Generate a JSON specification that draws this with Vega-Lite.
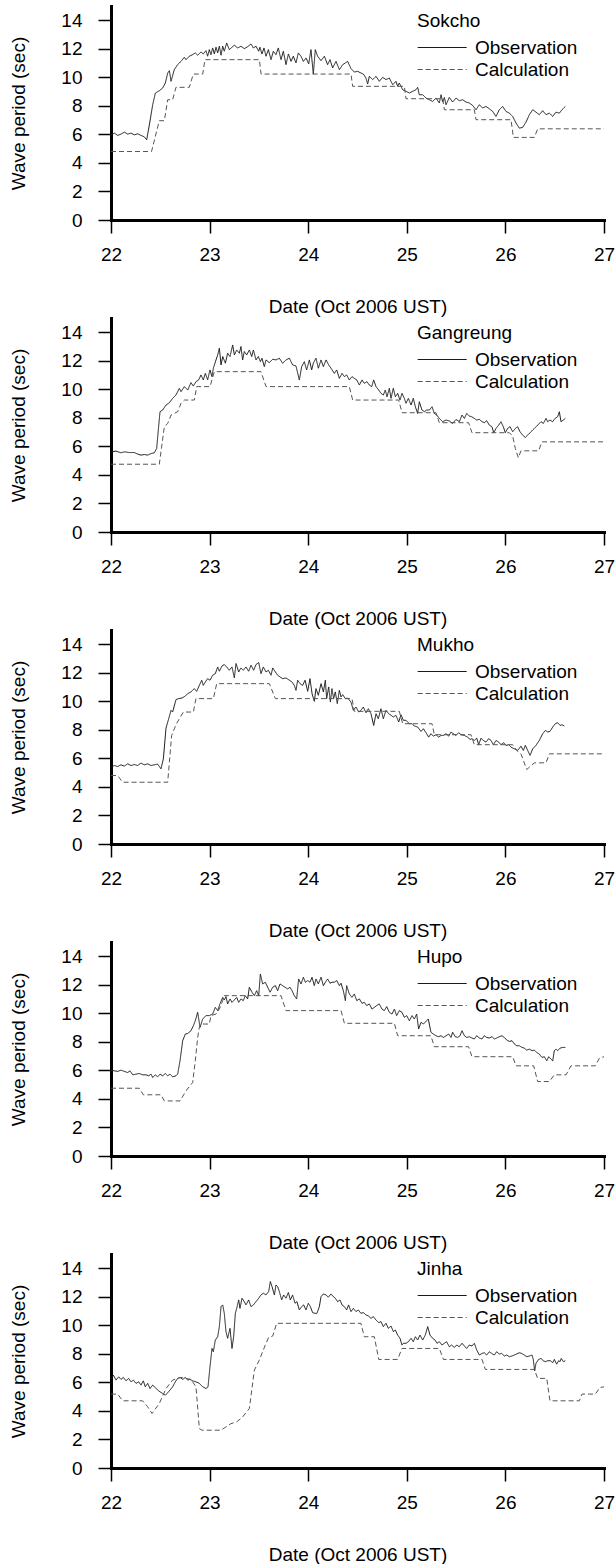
{
"$schema":"https://vega.github.io/schema/vega-lite/v6.json",
"padding":{"left":9,"top":6,"right":0,"bottom":0},
"spacing":2,
"config":{
"view":{"stroke":null},
"font":"Liberation Sans",
"axis":{"grid":false,"domainColor":"black","domainWidth":3,"domainCap":"square","tickColor":"black","tickWidth":1.5,"tickSize":13,"labelFont":"Liberation Sans","labelFontSize":19,"labelColor":"black","titleFont":"Liberation Sans","titleFontSize":19,"titleColor":"black","titleFontWeight":"normal","labelOverlap":false,"labelFlush":false},
"axisX":{"labelPadding":12,"titlePadding":33},
"axisY":{"labelPadding":16,"titlePadding":32},
"legend":{"titleFont":"Liberation Sans","titleFontSize":19,"titleFontWeight":"normal","titleColor":"black","labelFont":"Liberation Sans","labelFontSize":19,"labelColor":"black","symbolType":"M-1.8,0H8.2","symbolSize":96,"symbolStrokeWidth":1.2,"titlePadding":7,"labelOffset":39,"padding":0}
},
"datasets":{
"sokcho":[
{"series":"Observation","day":22.000,"period":5.97},{"series":"Observation","day":22.034,"period":6.09},{"series":"Observation","day":22.068,"period":5.93},{"series":"Observation","day":22.101,"period":6.02},{"series":"Observation","day":22.135,"period":6.16},{"series":"Observation","day":22.169,"period":6.02},{"series":"Observation","day":22.203,"period":6.09},{"series":"Observation","day":22.237,"period":5.97},{"series":"Observation","day":22.270,"period":6.04},{"series":"Observation","day":22.304,"period":5.93},{"series":"Observation","day":22.338,"period":5.83},{"series":"Observation","day":22.362,"period":5.62},{"series":"Observation","day":22.389,"period":6.67},{"series":"Observation","day":22.423,"period":8.08},{"series":"Observation","day":22.450,"period":8.90},{"series":"Observation","day":22.490,"period":9.06},{"series":"Observation","day":22.524,"period":9.25},{"series":"Observation","day":22.551,"period":9.60},{"series":"Observation","day":22.575,"period":10.30},{"series":"Observation","day":22.592,"period":10.47},{"series":"Observation","day":22.609,"period":9.72},{"series":"Observation","day":22.642,"period":10.54},{"series":"Observation","day":22.676,"period":10.89},{"series":"Observation","day":22.710,"period":11.12},{"series":"Observation","day":22.744,"period":11.41},{"series":"Observation","day":22.761,"period":11.24},{"series":"Observation","day":22.794,"period":11.48},{"series":"Observation","day":22.828,"period":11.59},{"series":"Observation","day":22.855,"period":11.71},{"series":"Observation","day":22.879,"period":11.55},{"series":"Observation","day":22.913,"period":11.78},{"series":"Observation","day":22.936,"period":11.64},{"series":"Observation","day":22.963,"period":11.87},{"series":"Observation","day":22.980,"period":11.48},{"series":"Observation","day":22.997,"period":11.94},{"series":"Observation","day":23.014,"period":11.59},{"series":"Observation","day":23.031,"period":12.06},{"series":"Observation","day":23.048,"period":11.64},{"series":"Observation","day":23.065,"period":12.11},{"series":"Observation","day":23.082,"period":11.71},{"series":"Observation","day":23.099,"period":12.18},{"series":"Observation","day":23.116,"period":11.55},{"series":"Observation","day":23.133,"period":12.18},{"series":"Observation","day":23.149,"period":11.83},{"series":"Observation","day":23.173,"period":12.41},{"series":"Observation","day":23.200,"period":11.94},{"series":"Observation","day":23.227,"period":12.11},{"series":"Observation","day":23.251,"period":12.25},{"series":"Observation","day":23.285,"period":12.06},{"series":"Observation","day":23.318,"period":12.18},{"series":"Observation","day":23.352,"period":12.01},{"series":"Observation","day":23.386,"period":12.15},{"series":"Observation","day":23.420,"period":12.34},{"series":"Observation","day":23.444,"period":12.06},{"series":"Observation","day":23.471,"period":12.18},{"series":"Observation","day":23.498,"period":11.83},{"series":"Observation","day":23.511,"period":12.11},{"series":"Observation","day":23.531,"period":11.64},{"series":"Observation","day":23.552,"period":12.06},{"series":"Observation","day":23.572,"period":11.48},{"series":"Observation","day":23.596,"period":11.94},{"series":"Observation","day":23.623,"period":11.24},{"series":"Observation","day":23.646,"period":11.83},{"series":"Observation","day":23.673,"period":11.59},{"series":"Observation","day":23.697,"period":12.06},{"series":"Observation","day":23.724,"period":11.24},{"series":"Observation","day":23.748,"period":11.83},{"series":"Observation","day":23.775,"period":10.89},{"series":"Observation","day":23.799,"period":11.64},{"series":"Observation","day":23.826,"period":11.12},{"series":"Observation","day":23.849,"period":11.48},{"series":"Observation","day":23.876,"period":11.01},{"series":"Observation","day":23.900,"period":11.71},{"series":"Observation","day":23.927,"period":11.48},{"series":"Observation","day":23.951,"period":11.12},{"series":"Observation","day":23.978,"period":11.36},{"series":"Observation","day":24.005,"period":10.94},{"series":"Observation","day":24.028,"period":11.94},{"series":"Observation","day":24.052,"period":10.23},{"series":"Observation","day":24.072,"period":11.94},{"series":"Observation","day":24.096,"period":11.48},{"series":"Observation","day":24.130,"period":11.17},{"series":"Observation","day":24.164,"period":11.48},{"series":"Observation","day":24.197,"period":10.89},{"series":"Observation","day":24.221,"period":11.24},{"series":"Observation","day":24.248,"period":10.66},{"series":"Observation","day":24.282,"period":11.12},{"series":"Observation","day":24.316,"period":10.54},{"series":"Observation","day":24.350,"period":10.89},{"series":"Observation","day":24.377,"period":11.01},{"series":"Observation","day":24.400,"period":11.12},{"series":"Observation","day":24.434,"period":10.61},{"series":"Observation","day":24.468,"period":10.37},{"series":"Observation","day":24.502,"period":10.42},{"series":"Observation","day":24.535,"period":10.30},{"series":"Observation","day":24.559,"period":10.23},{"series":"Observation","day":24.586,"period":9.95},{"series":"Observation","day":24.603,"period":9.53},{"series":"Observation","day":24.620,"period":10.07},{"series":"Observation","day":24.654,"period":9.84},{"series":"Observation","day":24.688,"period":10.07},{"series":"Observation","day":24.721,"period":9.72},{"series":"Observation","day":24.755,"period":10.00},{"series":"Observation","day":24.789,"period":9.84},{"series":"Observation","day":24.823,"period":9.95},{"series":"Observation","day":24.857,"period":9.48},{"series":"Observation","day":24.890,"period":9.72},{"series":"Observation","day":24.907,"period":9.37},{"series":"Observation","day":24.924,"period":9.60},{"series":"Observation","day":24.958,"period":9.13},{"series":"Observation","day":24.992,"period":9.02},{"series":"Observation","day":25.026,"period":8.90},{"series":"Observation","day":25.059,"period":9.02},{"series":"Observation","day":25.093,"period":9.13},{"series":"Observation","day":25.110,"period":9.30},{"series":"Observation","day":25.127,"period":8.78},{"series":"Observation","day":25.161,"period":8.78},{"series":"Observation","day":25.195,"period":8.55},{"series":"Observation","day":25.228,"period":8.43},{"series":"Observation","day":25.262,"period":8.31},{"series":"Observation","day":25.296,"period":8.55},{"series":"Observation","day":25.330,"period":8.20},{"series":"Observation","day":25.347,"period":8.78},{"series":"Observation","day":25.364,"period":8.27},{"series":"Observation","day":25.381,"period":8.59},{"series":"Observation","day":25.398,"period":8.08},{"series":"Observation","day":25.431,"period":8.59},{"series":"Observation","day":25.465,"period":8.27},{"series":"Observation","day":25.499,"period":8.55},{"series":"Observation","day":25.533,"period":8.36},{"series":"Observation","day":25.567,"period":8.43},{"series":"Observation","day":25.600,"period":8.27},{"series":"Observation","day":25.634,"period":8.20},{"series":"Observation","day":25.668,"period":8.03},{"series":"Observation","day":25.702,"period":7.73},{"series":"Observation","day":25.736,"period":8.08},{"series":"Observation","day":25.769,"period":7.85},{"series":"Observation","day":25.803,"period":7.96},{"series":"Observation","day":25.837,"period":7.80},{"series":"Observation","day":25.871,"period":7.61},{"series":"Observation","day":25.905,"period":7.26},{"series":"Observation","day":25.938,"period":7.73},{"series":"Observation","day":25.972,"period":7.96},{"series":"Observation","day":26.006,"period":7.61},{"series":"Observation","day":26.040,"period":7.49},{"series":"Observation","day":26.074,"period":7.26},{"series":"Observation","day":26.108,"period":6.79},{"series":"Observation","day":26.141,"period":6.44},{"series":"Observation","day":26.175,"period":6.49},{"series":"Observation","day":26.209,"period":6.86},{"series":"Observation","day":26.243,"period":7.38},{"series":"Observation","day":26.277,"period":7.73},{"series":"Observation","day":26.310,"period":7.56},{"series":"Observation","day":26.344,"period":7.38},{"series":"Observation","day":26.378,"period":7.66},{"series":"Observation","day":26.412,"period":7.38},{"series":"Observation","day":26.446,"period":7.49},{"series":"Observation","day":26.480,"period":7.26},{"series":"Observation","day":26.513,"period":7.56},{"series":"Observation","day":26.547,"period":7.49},{"series":"Observation","day":26.574,"period":7.73},{"series":"Observation","day":26.608,"period":7.96},
{"series":"Calculation","day":22.000,"period":4.80},{"series":"Calculation","day":22.411,"period":4.80},{"series":"Calculation","day":22.490,"period":6.96},{"series":"Calculation","day":22.541,"period":6.96},{"series":"Calculation","day":22.575,"period":8.43},{"series":"Calculation","day":22.625,"period":8.43},{"series":"Calculation","day":22.659,"period":9.30},{"series":"Calculation","day":22.794,"period":9.30},{"series":"Calculation","day":22.835,"period":10.23},{"series":"Calculation","day":22.930,"period":10.23},{"series":"Calculation","day":22.953,"period":11.24},{"series":"Calculation","day":23.505,"period":11.24},{"series":"Calculation","day":23.522,"period":10.23},{"series":"Calculation","day":24.434,"period":10.23},{"series":"Calculation","day":24.451,"period":9.37},{"series":"Calculation","day":24.975,"period":9.37},{"series":"Calculation","day":24.992,"period":8.50},{"series":"Calculation","day":25.364,"period":8.50},{"series":"Calculation","day":25.381,"period":7.73},{"series":"Calculation","day":25.685,"period":7.73},{"series":"Calculation","day":25.702,"period":7.03},{"series":"Calculation","day":26.057,"period":7.03},{"series":"Calculation","day":26.081,"period":5.79},{"series":"Calculation","day":26.294,"period":5.79},{"series":"Calculation","day":26.327,"period":6.39},{"series":"Calculation","day":27.000,"period":6.39}
],
"gangreung":[
{"series":"Observation","day":22.000,"period":5.62},{"series":"Observation","day":22.051,"period":5.67},{"series":"Observation","day":22.101,"period":5.55},{"series":"Observation","day":22.135,"period":5.62},{"series":"Observation","day":22.186,"period":5.57},{"series":"Observation","day":22.237,"period":5.57},{"series":"Observation","day":22.270,"period":5.46},{"series":"Observation","day":22.304,"period":5.39},{"series":"Observation","day":22.338,"period":5.43},{"series":"Observation","day":22.372,"period":5.39},{"series":"Observation","day":22.406,"period":5.50},{"series":"Observation","day":22.439,"period":5.55},{"series":"Observation","day":22.463,"period":5.85},{"series":"Observation","day":22.483,"period":7.38},{"series":"Observation","day":22.497,"period":8.43},{"series":"Observation","day":22.524,"period":8.55},{"series":"Observation","day":22.558,"period":8.90},{"series":"Observation","day":22.592,"period":9.06},{"series":"Observation","day":22.625,"period":9.37},{"series":"Observation","day":22.659,"period":9.60},{"series":"Observation","day":22.693,"period":10.07},{"series":"Observation","day":22.710,"period":9.84},{"series":"Observation","day":22.744,"period":10.19},{"series":"Observation","day":22.778,"period":9.95},{"series":"Observation","day":22.811,"period":10.47},{"series":"Observation","day":22.835,"period":10.23},{"series":"Observation","day":22.862,"period":10.54},{"series":"Observation","day":22.889,"period":10.66},{"series":"Observation","day":22.913,"period":11.01},{"series":"Observation","day":22.936,"period":10.66},{"series":"Observation","day":22.957,"period":11.12},{"series":"Observation","day":22.980,"period":10.66},{"series":"Observation","day":23.004,"period":11.36},{"series":"Observation","day":23.024,"period":10.89},{"series":"Observation","day":23.038,"period":11.48},{"series":"Observation","day":23.065,"period":12.06},{"series":"Observation","day":23.082,"period":12.41},{"series":"Observation","day":23.099,"period":12.88},{"series":"Observation","day":23.116,"period":11.71},{"series":"Observation","day":23.133,"period":12.30},{"series":"Observation","day":23.160,"period":11.83},{"series":"Observation","day":23.183,"period":12.53},{"series":"Observation","day":23.207,"period":12.30},{"series":"Observation","day":23.234,"period":13.11},{"series":"Observation","day":23.251,"period":12.41},{"series":"Observation","day":23.275,"period":12.76},{"series":"Observation","day":23.302,"period":12.53},{"series":"Observation","day":23.318,"period":13.00},{"series":"Observation","day":23.335,"period":12.06},{"series":"Observation","day":23.352,"period":12.65},{"series":"Observation","day":23.376,"period":12.41},{"series":"Observation","day":23.403,"period":12.76},{"series":"Observation","day":23.427,"period":12.30},{"series":"Observation","day":23.444,"period":12.76},{"series":"Observation","day":23.471,"period":12.06},{"series":"Observation","day":23.494,"period":12.30},{"series":"Observation","day":23.515,"period":11.94},{"series":"Observation","day":23.531,"period":12.18},{"series":"Observation","day":23.555,"period":11.59},{"series":"Observation","day":23.572,"period":12.06},{"series":"Observation","day":23.606,"period":11.87},{"series":"Observation","day":23.640,"period":12.11},{"series":"Observation","day":23.673,"period":12.06},{"series":"Observation","day":23.707,"period":12.18},{"series":"Observation","day":23.741,"period":11.83},{"series":"Observation","day":23.775,"period":12.06},{"series":"Observation","day":23.809,"period":12.18},{"series":"Observation","day":23.842,"period":11.71},{"series":"Observation","day":23.876,"period":11.64},{"series":"Observation","day":23.910,"period":10.66},{"series":"Observation","day":23.934,"period":11.59},{"series":"Observation","day":23.961,"period":11.94},{"series":"Observation","day":23.984,"period":11.36},{"series":"Observation","day":24.012,"period":12.06},{"series":"Observation","day":24.035,"period":11.36},{"series":"Observation","day":24.052,"period":11.83},{"series":"Observation","day":24.079,"period":12.18},{"series":"Observation","day":24.103,"period":11.48},{"series":"Observation","day":24.130,"period":12.06},{"series":"Observation","day":24.154,"period":11.59},{"series":"Observation","day":24.181,"period":12.06},{"series":"Observation","day":24.208,"period":11.71},{"series":"Observation","day":24.231,"period":11.48},{"series":"Observation","day":24.265,"period":11.12},{"series":"Observation","day":24.289,"period":11.36},{"series":"Observation","day":24.316,"period":10.77},{"series":"Observation","day":24.343,"period":11.12},{"series":"Observation","day":24.367,"period":10.89},{"series":"Observation","day":24.390,"period":11.01},{"series":"Observation","day":24.417,"period":10.66},{"series":"Observation","day":24.444,"period":10.89},{"series":"Observation","day":24.468,"period":10.77},{"series":"Observation","day":24.492,"period":10.66},{"series":"Observation","day":24.519,"period":10.30},{"series":"Observation","day":24.546,"period":10.66},{"series":"Observation","day":24.569,"period":10.42},{"series":"Observation","day":24.596,"period":10.54},{"series":"Observation","day":24.620,"period":10.30},{"series":"Observation","day":24.644,"period":10.19},{"series":"Observation","day":24.664,"period":10.66},{"series":"Observation","day":24.688,"period":10.19},{"series":"Observation","day":24.715,"period":9.95},{"series":"Observation","day":24.738,"period":9.72},{"series":"Observation","day":24.762,"period":9.60},{"series":"Observation","day":24.782,"period":9.95},{"series":"Observation","day":24.799,"period":9.48},{"series":"Observation","day":24.823,"period":10.07},{"series":"Observation","day":24.840,"period":9.37},{"series":"Observation","day":24.863,"period":10.07},{"series":"Observation","day":24.884,"period":9.48},{"series":"Observation","day":24.907,"period":9.72},{"series":"Observation","day":24.931,"period":9.25},{"series":"Observation","day":24.951,"period":9.72},{"series":"Observation","day":24.975,"period":9.37},{"series":"Observation","day":24.992,"period":9.02},{"series":"Observation","day":25.016,"period":9.37},{"series":"Observation","day":25.043,"period":8.90},{"series":"Observation","day":25.066,"period":9.37},{"series":"Observation","day":25.087,"period":8.78},{"series":"Observation","day":25.110,"period":8.31},{"series":"Observation","day":25.127,"period":9.13},{"series":"Observation","day":25.154,"period":8.55},{"series":"Observation","day":25.178,"period":8.43},{"series":"Observation","day":25.202,"period":8.55},{"series":"Observation","day":25.229,"period":8.55},{"series":"Observation","day":25.256,"period":8.78},{"series":"Observation","day":25.279,"period":8.31},{"series":"Observation","day":25.303,"period":8.20},{"series":"Observation","day":25.330,"period":7.96},{"series":"Observation","day":25.364,"period":7.73},{"series":"Observation","day":25.398,"period":7.85},{"series":"Observation","day":25.431,"period":7.78},{"series":"Observation","day":25.465,"period":7.61},{"series":"Observation","day":25.499,"period":7.89},{"series":"Observation","day":25.533,"period":7.73},{"series":"Observation","day":25.560,"period":8.20},{"series":"Observation","day":25.584,"period":7.96},{"series":"Observation","day":25.607,"period":8.31},{"series":"Observation","day":25.634,"period":8.13},{"series":"Observation","day":25.658,"period":8.08},{"series":"Observation","day":25.685,"period":7.96},{"series":"Observation","day":25.709,"period":7.85},{"series":"Observation","day":25.736,"period":7.89},{"series":"Observation","day":25.763,"period":7.73},{"series":"Observation","day":25.786,"period":7.66},{"series":"Observation","day":25.810,"period":7.80},{"series":"Observation","day":25.837,"period":7.49},{"series":"Observation","day":25.864,"period":7.38},{"series":"Observation","day":25.881,"period":6.96},{"series":"Observation","day":25.905,"period":7.26},{"series":"Observation","day":25.932,"period":7.49},{"series":"Observation","day":25.955,"period":7.73},{"series":"Observation","day":25.979,"period":7.38},{"series":"Observation","day":25.999,"period":6.96},{"series":"Observation","day":26.023,"period":7.26},{"series":"Observation","day":26.047,"period":7.38},{"series":"Observation","day":26.074,"period":7.03},{"series":"Observation","day":26.101,"period":7.26},{"series":"Observation","day":26.124,"period":7.38},{"series":"Observation","day":26.148,"period":7.03},{"series":"Observation","day":26.175,"period":6.79},{"series":"Observation","day":26.202,"period":6.63},{"series":"Observation","day":26.226,"period":6.79},{"series":"Observation","day":26.260,"period":7.03},{"series":"Observation","day":26.294,"period":7.26},{"series":"Observation","day":26.327,"period":7.49},{"series":"Observation","day":26.361,"period":7.73},{"series":"Observation","day":26.385,"period":7.61},{"series":"Observation","day":26.412,"period":7.96},{"series":"Observation","day":26.429,"period":7.73},{"series":"Observation","day":26.452,"period":7.85},{"series":"Observation","day":26.479,"period":7.73},{"series":"Observation","day":26.503,"period":7.96},{"series":"Observation","day":26.530,"period":8.08},{"series":"Observation","day":26.547,"period":8.43},{"series":"Observation","day":26.564,"period":7.73},{"series":"Observation","day":26.588,"period":7.85},{"series":"Observation","day":26.608,"period":7.96},
{"series":"Calculation","day":22.000,"period":4.75},{"series":"Calculation","day":22.490,"period":4.75},{"series":"Calculation","day":22.541,"period":7.38},{"series":"Calculation","day":22.575,"period":7.61},{"series":"Calculation","day":22.609,"period":8.20},{"series":"Calculation","day":22.676,"period":8.43},{"series":"Calculation","day":22.710,"period":9.02},{"series":"Calculation","day":22.744,"period":9.25},{"series":"Calculation","day":22.845,"period":9.25},{"series":"Calculation","day":22.869,"period":10.19},{"series":"Calculation","day":23.004,"period":10.19},{"series":"Calculation","day":23.048,"period":11.24},{"series":"Calculation","day":23.521,"period":11.24},{"series":"Calculation","day":23.572,"period":10.19},{"series":"Calculation","day":24.417,"period":10.19},{"series":"Calculation","day":24.451,"period":9.25},{"series":"Calculation","day":24.918,"period":9.25},{"series":"Calculation","day":24.951,"period":8.36},{"series":"Calculation","day":25.296,"period":8.36},{"series":"Calculation","day":25.330,"period":7.66},{"series":"Calculation","day":25.627,"period":7.66},{"series":"Calculation","day":25.661,"period":6.96},{"series":"Calculation","day":26.040,"period":6.96},{"series":"Calculation","day":26.074,"period":6.72},{"series":"Calculation","day":26.101,"period":5.85},{"series":"Calculation","day":26.131,"period":5.20},{"series":"Calculation","day":26.158,"period":5.69},{"series":"Calculation","day":26.337,"period":5.69},{"series":"Calculation","day":26.371,"period":6.32},{"series":"Calculation","day":27.000,"period":6.32}
],
"mukho":[
{"series":"Observation","day":22.000,"period":5.39},{"series":"Observation","day":22.034,"period":5.50},{"series":"Observation","day":22.068,"period":5.43},{"series":"Observation","day":22.101,"period":5.55},{"series":"Observation","day":22.135,"period":5.46},{"series":"Observation","day":22.169,"period":5.62},{"series":"Observation","day":22.203,"period":5.50},{"series":"Observation","day":22.237,"period":5.57},{"series":"Observation","day":22.270,"period":5.50},{"series":"Observation","day":22.304,"period":5.67},{"series":"Observation","day":22.338,"period":5.55},{"series":"Observation","day":22.372,"period":5.62},{"series":"Observation","day":22.406,"period":5.50},{"series":"Observation","day":22.439,"period":5.55},{"series":"Observation","day":22.473,"period":5.60},{"series":"Observation","day":22.507,"period":5.27},{"series":"Observation","day":22.531,"period":5.97},{"series":"Observation","day":22.558,"period":8.13},{"series":"Observation","day":22.585,"period":8.78},{"series":"Observation","day":22.609,"period":9.37},{"series":"Observation","day":22.625,"period":9.25},{"series":"Observation","day":22.659,"period":10.12},{"series":"Observation","day":22.686,"period":10.19},{"series":"Observation","day":22.720,"period":10.23},{"series":"Observation","day":22.754,"period":10.37},{"series":"Observation","day":22.778,"period":10.54},{"series":"Observation","day":22.811,"period":10.66},{"series":"Observation","day":22.845,"period":10.89},{"series":"Observation","day":22.869,"period":10.70},{"series":"Observation","day":22.896,"period":11.12},{"series":"Observation","day":22.920,"period":11.48},{"series":"Observation","day":22.936,"period":11.12},{"series":"Observation","day":22.957,"period":11.36},{"series":"Observation","day":22.980,"period":11.59},{"series":"Observation","day":23.004,"period":11.48},{"series":"Observation","day":23.031,"period":11.83},{"series":"Observation","day":23.058,"period":11.94},{"series":"Observation","day":23.082,"period":12.41},{"series":"Observation","day":23.099,"period":12.11},{"series":"Observation","day":23.126,"period":12.48},{"series":"Observation","day":23.149,"period":12.58},{"series":"Observation","day":23.173,"period":12.41},{"series":"Observation","day":23.200,"period":12.18},{"series":"Observation","day":23.227,"period":12.41},{"series":"Observation","day":23.251,"period":11.64},{"series":"Observation","day":23.268,"period":12.65},{"series":"Observation","day":23.295,"period":12.06},{"series":"Observation","day":23.318,"period":12.34},{"series":"Observation","day":23.342,"period":12.18},{"series":"Observation","day":23.369,"period":12.41},{"series":"Observation","day":23.396,"period":12.11},{"series":"Observation","day":23.420,"period":12.53},{"series":"Observation","day":23.447,"period":12.18},{"series":"Observation","day":23.471,"period":12.58},{"series":"Observation","day":23.498,"period":12.72},{"series":"Observation","day":23.521,"period":11.94},{"series":"Observation","day":23.545,"period":12.41},{"series":"Observation","day":23.572,"period":12.06},{"series":"Observation","day":23.596,"period":12.18},{"series":"Observation","day":23.623,"period":11.83},{"series":"Observation","day":23.640,"period":12.34},{"series":"Observation","day":23.667,"period":12.06},{"series":"Observation","day":23.690,"period":11.83},{"series":"Observation","day":23.714,"period":11.71},{"series":"Observation","day":23.741,"period":11.59},{"series":"Observation","day":23.775,"period":11.64},{"series":"Observation","day":23.809,"period":11.48},{"series":"Observation","day":23.836,"period":11.36},{"series":"Observation","day":23.859,"period":11.12},{"series":"Observation","day":23.876,"period":10.77},{"series":"Observation","day":23.893,"period":11.48},{"series":"Observation","day":23.917,"period":11.24},{"series":"Observation","day":23.944,"period":11.12},{"series":"Observation","day":23.968,"period":11.48},{"series":"Observation","day":23.995,"period":10.70},{"series":"Observation","day":24.018,"period":11.59},{"series":"Observation","day":24.039,"period":10.54},{"series":"Observation","day":24.062,"period":10.00},{"series":"Observation","day":24.079,"period":10.89},{"series":"Observation","day":24.103,"period":10.42},{"series":"Observation","day":24.130,"period":11.24},{"series":"Observation","day":24.154,"period":10.66},{"series":"Observation","day":24.174,"period":11.48},{"series":"Observation","day":24.187,"period":10.19},{"series":"Observation","day":24.208,"period":11.01},{"series":"Observation","day":24.225,"period":9.95},{"series":"Observation","day":24.241,"period":10.89},{"series":"Observation","day":24.258,"period":10.19},{"series":"Observation","day":24.275,"period":10.66},{"series":"Observation","day":24.295,"period":9.84},{"series":"Observation","day":24.316,"period":10.77},{"series":"Observation","day":24.333,"period":10.30},{"series":"Observation","day":24.350,"period":10.47},{"series":"Observation","day":24.377,"period":10.19},{"series":"Observation","day":24.400,"period":10.23},{"series":"Observation","day":24.434,"period":9.95},{"series":"Observation","day":24.458,"period":9.37},{"series":"Observation","day":24.485,"period":9.60},{"series":"Observation","day":24.512,"period":9.25},{"series":"Observation","day":24.535,"period":9.37},{"series":"Observation","day":24.559,"period":9.60},{"series":"Observation","day":24.586,"period":9.20},{"series":"Observation","day":24.610,"period":9.48},{"series":"Observation","day":24.637,"period":9.13},{"series":"Observation","day":24.664,"period":8.31},{"series":"Observation","day":24.688,"period":9.13},{"series":"Observation","day":24.711,"period":8.78},{"series":"Observation","day":24.738,"period":9.48},{"series":"Observation","day":24.762,"period":8.78},{"series":"Observation","day":24.789,"period":9.37},{"series":"Observation","day":24.816,"period":9.13},{"series":"Observation","day":24.840,"period":9.02},{"series":"Observation","day":24.863,"period":8.90},{"series":"Observation","day":24.890,"period":9.02},{"series":"Observation","day":24.918,"period":8.55},{"series":"Observation","day":24.941,"period":9.06},{"series":"Observation","day":24.965,"period":8.67},{"series":"Observation","day":24.992,"period":8.67},{"series":"Observation","day":25.026,"period":8.43},{"series":"Observation","day":25.053,"period":8.43},{"series":"Observation","day":25.076,"period":8.27},{"series":"Observation","day":25.110,"period":8.20},{"series":"Observation","day":25.144,"period":7.89},{"series":"Observation","day":25.168,"period":8.08},{"series":"Observation","day":25.195,"period":7.80},{"series":"Observation","day":25.222,"period":7.49},{"series":"Observation","day":25.245,"period":7.73},{"series":"Observation","day":25.269,"period":7.56},{"series":"Observation","day":25.296,"period":7.66},{"series":"Observation","day":25.323,"period":7.49},{"series":"Observation","day":25.347,"period":7.61},{"series":"Observation","day":25.371,"period":7.61},{"series":"Observation","day":25.398,"period":7.73},{"series":"Observation","day":25.425,"period":7.56},{"series":"Observation","day":25.448,"period":7.85},{"series":"Observation","day":25.472,"period":7.73},{"series":"Observation","day":25.499,"period":7.61},{"series":"Observation","day":25.526,"period":7.80},{"series":"Observation","day":25.550,"period":7.66},{"series":"Observation","day":25.584,"period":7.61},{"series":"Observation","day":25.617,"period":7.49},{"series":"Observation","day":25.641,"period":7.33},{"series":"Observation","day":25.661,"period":7.38},{"series":"Observation","day":25.685,"period":7.26},{"series":"Observation","day":25.709,"period":7.42},{"series":"Observation","day":25.729,"period":6.96},{"series":"Observation","day":25.753,"period":7.42},{"series":"Observation","day":25.776,"period":7.26},{"series":"Observation","day":25.803,"period":7.14},{"series":"Observation","day":25.830,"period":7.38},{"series":"Observation","day":25.854,"period":7.26},{"series":"Observation","day":25.878,"period":6.96},{"series":"Observation","day":25.905,"period":7.26},{"series":"Observation","day":25.932,"period":7.14},{"series":"Observation","day":25.955,"period":6.96},{"series":"Observation","day":25.982,"period":7.10},{"series":"Observation","day":26.006,"period":6.91},{"series":"Observation","day":26.033,"period":6.96},{"series":"Observation","day":26.057,"period":6.79},{"series":"Observation","day":26.091,"period":6.67},{"series":"Observation","day":26.124,"period":6.56},{"series":"Observation","day":26.158,"period":6.86},{"series":"Observation","day":26.182,"period":6.56},{"series":"Observation","day":26.202,"period":6.91},{"series":"Observation","day":26.226,"period":6.56},{"series":"Observation","day":26.250,"period":6.21},{"series":"Observation","day":26.277,"period":6.67},{"series":"Observation","day":26.310,"period":6.91},{"series":"Observation","day":26.344,"period":7.26},{"series":"Observation","day":26.378,"period":7.73},{"series":"Observation","day":26.405,"period":7.96},{"series":"Observation","day":26.429,"period":7.85},{"series":"Observation","day":26.452,"period":7.89},{"series":"Observation","day":26.480,"period":8.20},{"series":"Observation","day":26.506,"period":8.43},{"series":"Observation","day":26.530,"period":8.50},{"series":"Observation","day":26.554,"period":8.31},{"series":"Observation","day":26.574,"period":8.36},{"series":"Observation","day":26.598,"period":8.27},
{"series":"Calculation","day":22.000,"period":4.80},{"series":"Calculation","day":22.068,"period":4.80},{"series":"Calculation","day":22.118,"period":4.33},{"series":"Calculation","day":22.575,"period":4.33},{"series":"Calculation","day":22.615,"period":7.61},{"series":"Calculation","day":22.659,"period":8.36},{"series":"Calculation","day":22.693,"period":8.78},{"series":"Calculation","day":22.734,"period":9.25},{"series":"Calculation","day":22.835,"period":9.25},{"series":"Calculation","day":22.862,"period":10.19},{"series":"Calculation","day":23.038,"period":10.19},{"series":"Calculation","day":23.072,"period":11.24},{"series":"Calculation","day":23.606,"period":11.24},{"series":"Calculation","day":23.667,"period":10.19},{"series":"Calculation","day":24.444,"period":10.19},{"series":"Calculation","day":24.468,"period":9.30},{"series":"Calculation","day":24.924,"period":9.30},{"series":"Calculation","day":24.958,"period":8.43},{"series":"Calculation","day":25.256,"period":8.43},{"series":"Calculation","day":25.279,"period":7.66},{"series":"Calculation","day":25.651,"period":7.66},{"series":"Calculation","day":25.685,"period":6.96},{"series":"Calculation","day":26.074,"period":6.96},{"series":"Calculation","day":26.114,"period":6.56},{"series":"Calculation","day":26.158,"period":6.32},{"series":"Calculation","day":26.216,"period":5.22},{"series":"Calculation","day":26.294,"period":5.69},{"series":"Calculation","day":26.412,"period":5.69},{"series":"Calculation","day":26.446,"period":6.32},{"series":"Calculation","day":27.000,"period":6.32}
],
"hupo":[
{"series":"Observation","day":22.000,"period":6.02},{"series":"Observation","day":22.034,"period":5.97},{"series":"Observation","day":22.068,"period":5.93},{"series":"Observation","day":22.101,"period":6.02},{"series":"Observation","day":22.135,"period":5.93},{"series":"Observation","day":22.169,"period":5.85},{"series":"Observation","day":22.193,"period":5.97},{"series":"Observation","day":22.220,"period":5.69},{"series":"Observation","day":22.254,"period":5.74},{"series":"Observation","day":22.287,"period":5.78},{"series":"Observation","day":22.321,"period":5.69},{"series":"Observation","day":22.355,"period":5.69},{"series":"Observation","day":22.382,"period":5.62},{"series":"Observation","day":22.406,"period":5.74},{"series":"Observation","day":22.423,"period":5.50},{"series":"Observation","day":22.450,"period":5.69},{"series":"Observation","day":22.473,"period":5.55},{"series":"Observation","day":22.497,"period":5.74},{"series":"Observation","day":22.524,"period":5.62},{"series":"Observation","day":22.551,"period":5.78},{"series":"Observation","day":22.575,"period":5.62},{"series":"Observation","day":22.598,"period":5.74},{"series":"Observation","day":22.625,"period":5.55},{"series":"Observation","day":22.659,"period":5.62},{"series":"Observation","day":22.676,"period":5.74},{"series":"Observation","day":22.700,"period":6.67},{"series":"Observation","day":22.727,"period":8.08},{"series":"Observation","day":22.754,"period":8.55},{"series":"Observation","day":22.778,"period":8.59},{"series":"Observation","day":22.811,"period":8.78},{"series":"Observation","day":22.835,"period":9.13},{"series":"Observation","day":22.855,"period":9.48},{"series":"Observation","day":22.879,"period":10.07},{"series":"Observation","day":22.903,"period":9.02},{"series":"Observation","day":22.930,"period":9.60},{"series":"Observation","day":22.963,"period":9.84},{"series":"Observation","day":22.997,"period":9.84},{"series":"Observation","day":23.031,"period":9.95},{"series":"Observation","day":23.058,"period":10.42},{"series":"Observation","day":23.082,"period":10.19},{"series":"Observation","day":23.105,"period":10.66},{"series":"Observation","day":23.133,"period":11.12},{"series":"Observation","day":23.149,"period":10.94},{"series":"Observation","day":23.166,"period":11.17},{"series":"Observation","day":23.183,"period":10.66},{"series":"Observation","day":23.207,"period":11.01},{"series":"Observation","day":23.227,"period":10.77},{"series":"Observation","day":23.251,"period":10.94},{"series":"Observation","day":23.275,"period":11.12},{"series":"Observation","day":23.295,"period":10.77},{"series":"Observation","day":23.318,"period":11.01},{"series":"Observation","day":23.342,"period":10.89},{"series":"Observation","day":23.362,"period":11.24},{"series":"Observation","day":23.386,"period":11.01},{"series":"Observation","day":23.403,"period":11.83},{"series":"Observation","day":23.430,"period":11.48},{"series":"Observation","day":23.454,"period":11.24},{"series":"Observation","day":23.477,"period":11.59},{"series":"Observation","day":23.498,"period":11.24},{"series":"Observation","day":23.515,"period":12.76},{"series":"Observation","day":23.538,"period":12.06},{"series":"Observation","day":23.565,"period":12.18},{"series":"Observation","day":23.589,"period":11.83},{"series":"Observation","day":23.613,"period":11.48},{"series":"Observation","day":23.640,"period":11.83},{"series":"Observation","day":23.667,"period":11.94},{"series":"Observation","day":23.690,"period":11.59},{"series":"Observation","day":23.714,"period":12.06},{"series":"Observation","day":23.741,"period":11.94},{"series":"Observation","day":23.765,"period":11.83},{"series":"Observation","day":23.792,"period":11.71},{"series":"Observation","day":23.815,"period":11.83},{"series":"Observation","day":23.836,"period":11.59},{"series":"Observation","day":23.859,"period":11.24},{"series":"Observation","day":23.883,"period":11.01},{"series":"Observation","day":23.903,"period":12.41},{"series":"Observation","day":23.927,"period":12.06},{"series":"Observation","day":23.951,"period":12.53},{"series":"Observation","day":23.971,"period":12.18},{"series":"Observation","day":23.995,"period":12.30},{"series":"Observation","day":24.018,"period":12.18},{"series":"Observation","day":24.039,"period":12.53},{"series":"Observation","day":24.062,"period":11.94},{"series":"Observation","day":24.079,"period":12.41},{"series":"Observation","day":24.103,"period":12.06},{"series":"Observation","day":24.130,"period":12.53},{"series":"Observation","day":24.154,"period":11.94},{"series":"Observation","day":24.174,"period":12.18},{"series":"Observation","day":24.197,"period":12.41},{"series":"Observation","day":24.221,"period":12.11},{"series":"Observation","day":24.241,"period":12.18},{"series":"Observation","day":24.265,"period":12.18},{"series":"Observation","day":24.289,"period":12.30},{"series":"Observation","day":24.316,"period":11.94},{"series":"Observation","day":24.333,"period":12.11},{"series":"Observation","day":24.356,"period":11.59},{"series":"Observation","day":24.377,"period":10.89},{"series":"Observation","day":24.390,"period":11.94},{"series":"Observation","day":24.417,"period":11.36},{"series":"Observation","day":24.444,"period":11.12},{"series":"Observation","day":24.468,"period":11.36},{"series":"Observation","day":24.492,"period":10.89},{"series":"Observation","day":24.519,"period":11.01},{"series":"Observation","day":24.546,"period":10.70},{"series":"Observation","day":24.569,"period":10.77},{"series":"Observation","day":24.593,"period":10.54},{"series":"Observation","day":24.620,"period":10.66},{"series":"Observation","day":24.647,"period":10.30},{"series":"Observation","day":24.671,"period":10.42},{"series":"Observation","day":24.694,"period":10.54},{"series":"Observation","day":24.721,"period":10.66},{"series":"Observation","day":24.748,"period":10.30},{"series":"Observation","day":24.772,"period":10.19},{"series":"Observation","day":24.796,"period":10.47},{"series":"Observation","day":24.823,"period":10.07},{"series":"Observation","day":24.850,"period":9.95},{"series":"Observation","day":24.874,"period":10.30},{"series":"Observation","day":24.897,"period":9.84},{"series":"Observation","day":24.924,"period":10.19},{"series":"Observation","day":24.951,"period":10.07},{"series":"Observation","day":24.975,"period":9.72},{"series":"Observation","day":24.999,"period":9.84},{"series":"Observation","day":25.026,"period":9.48},{"series":"Observation","day":25.053,"period":9.84},{"series":"Observation","day":25.076,"period":9.60},{"series":"Observation","day":25.100,"period":9.95},{"series":"Observation","day":25.120,"period":8.90},{"series":"Observation","day":25.144,"period":9.37},{"series":"Observation","day":25.168,"period":9.25},{"series":"Observation","day":25.195,"period":9.44},{"series":"Observation","day":25.218,"period":9.60},{"series":"Observation","day":25.245,"period":8.67},{"series":"Observation","day":25.269,"period":8.55},{"series":"Observation","day":25.296,"period":8.43},{"series":"Observation","day":25.320,"period":8.36},{"series":"Observation","day":25.347,"period":8.43},{"series":"Observation","day":25.371,"period":8.31},{"series":"Observation","day":25.398,"period":8.43},{"series":"Observation","day":25.425,"period":8.55},{"series":"Observation","day":25.448,"period":8.31},{"series":"Observation","day":25.465,"period":8.67},{"series":"Observation","day":25.492,"period":8.36},{"series":"Observation","day":25.516,"period":8.31},{"series":"Observation","day":25.540,"period":8.43},{"series":"Observation","day":25.560,"period":8.78},{"series":"Observation","day":25.584,"period":8.43},{"series":"Observation","day":25.607,"period":8.31},{"series":"Observation","day":25.634,"period":8.36},{"series":"Observation","day":25.661,"period":8.27},{"series":"Observation","day":25.685,"period":8.20},{"series":"Observation","day":25.709,"period":8.43},{"series":"Observation","day":25.736,"period":8.27},{"series":"Observation","day":25.763,"period":8.20},{"series":"Observation","day":25.786,"period":8.43},{"series":"Observation","day":25.810,"period":8.31},{"series":"Observation","day":25.837,"period":8.27},{"series":"Observation","day":25.864,"period":8.36},{"series":"Observation","day":25.888,"period":8.20},{"series":"Observation","day":25.911,"period":8.27},{"series":"Observation","day":25.938,"period":8.36},{"series":"Observation","day":25.965,"period":8.43},{"series":"Observation","day":25.989,"period":8.31},{"series":"Observation","day":26.013,"period":8.13},{"series":"Observation","day":26.040,"period":8.03},{"series":"Observation","day":26.067,"period":8.08},{"series":"Observation","day":26.091,"period":7.85},{"series":"Observation","day":26.114,"period":7.73},{"series":"Observation","day":26.141,"period":7.73},{"series":"Observation","day":26.168,"period":7.61},{"series":"Observation","day":26.192,"period":7.56},{"series":"Observation","day":26.216,"period":7.42},{"series":"Observation","day":26.243,"period":7.49},{"series":"Observation","day":26.270,"period":7.38},{"series":"Observation","day":26.294,"period":7.42},{"series":"Observation","day":26.317,"period":7.26},{"series":"Observation","day":26.344,"period":7.14},{"series":"Observation","day":26.371,"period":6.91},{"series":"Observation","day":26.395,"period":6.96},{"series":"Observation","day":26.419,"period":6.67},{"series":"Observation","day":26.439,"period":6.96},{"series":"Observation","day":26.462,"period":6.79},{"series":"Observation","day":26.480,"period":6.67},{"series":"Observation","day":26.496,"period":7.38},{"series":"Observation","day":26.513,"period":7.49},{"series":"Observation","day":26.530,"period":7.38},{"series":"Observation","day":26.554,"period":7.56},{"series":"Observation","day":26.581,"period":7.61},{"series":"Observation","day":26.608,"period":7.61},
{"series":"Calculation","day":22.000,"period":4.75},{"series":"Calculation","day":22.287,"period":4.75},{"series":"Calculation","day":22.328,"period":4.29},{"series":"Calculation","day":22.507,"period":4.29},{"series":"Calculation","day":22.541,"period":3.86},{"series":"Calculation","day":22.700,"period":3.86},{"series":"Calculation","day":22.761,"period":4.57},{"series":"Calculation","day":22.828,"period":5.15},{"series":"Calculation","day":22.855,"period":6.67},{"series":"Calculation","day":22.879,"period":8.31},{"series":"Calculation","day":22.896,"period":9.02},{"series":"Calculation","day":22.913,"period":9.25},{"series":"Calculation","day":22.997,"period":9.25},{"series":"Calculation","day":23.014,"period":9.84},{"series":"Calculation","day":23.065,"period":9.95},{"series":"Calculation","day":23.099,"period":10.30},{"series":"Calculation","day":23.133,"period":10.89},{"series":"Calculation","day":23.149,"period":11.24},{"series":"Calculation","day":23.724,"period":11.24},{"series":"Calculation","day":23.775,"period":10.19},{"series":"Calculation","day":24.333,"period":10.19},{"series":"Calculation","day":24.367,"period":9.30},{"series":"Calculation","day":24.874,"period":9.30},{"series":"Calculation","day":24.907,"period":8.43},{"series":"Calculation","day":25.245,"period":8.43},{"series":"Calculation","day":25.279,"period":7.66},{"series":"Calculation","day":25.627,"period":7.66},{"series":"Calculation","day":25.661,"period":6.96},{"series":"Calculation","day":26.074,"period":6.96},{"series":"Calculation","day":26.108,"period":6.32},{"series":"Calculation","day":26.287,"period":6.32},{"series":"Calculation","day":26.327,"period":5.22},{"series":"Calculation","day":26.446,"period":5.22},{"series":"Calculation","day":26.496,"period":5.69},{"series":"Calculation","day":26.615,"period":5.69},{"series":"Calculation","day":26.665,"period":6.32},{"series":"Calculation","day":26.912,"period":6.32},{"series":"Calculation","day":26.953,"period":6.86},{"series":"Calculation","day":27.000,"period":6.96}
],
"jinha":[
{"series":"Observation","day":22.000,"period":6.21},{"series":"Observation","day":22.024,"period":6.51},{"series":"Observation","day":22.051,"period":6.16},{"series":"Observation","day":22.078,"period":6.39},{"series":"Observation","day":22.101,"period":6.21},{"series":"Observation","day":22.125,"period":6.35},{"series":"Observation","day":22.152,"period":6.11},{"series":"Observation","day":22.179,"period":6.28},{"series":"Observation","day":22.203,"period":6.04},{"series":"Observation","day":22.227,"period":6.16},{"series":"Observation","day":22.254,"period":5.93},{"series":"Observation","day":22.281,"period":6.04},{"series":"Observation","day":22.304,"period":5.81},{"series":"Observation","day":22.328,"period":6.11},{"series":"Observation","day":22.348,"period":5.69},{"series":"Observation","day":22.372,"period":5.93},{"series":"Observation","day":22.396,"period":5.57},{"series":"Observation","day":22.423,"period":5.81},{"series":"Observation","day":22.450,"period":5.64},{"series":"Observation","day":22.473,"period":5.46},{"series":"Observation","day":22.497,"period":5.34},{"series":"Observation","day":22.524,"period":5.22},{"series":"Observation","day":22.551,"period":5.11},{"series":"Observation","day":22.575,"period":5.27},{"series":"Observation","day":22.598,"period":5.46},{"series":"Observation","day":22.625,"period":5.69},{"series":"Observation","day":22.652,"period":6.04},{"series":"Observation","day":22.676,"period":6.28},{"series":"Observation","day":22.700,"period":6.35},{"series":"Observation","day":22.727,"period":6.21},{"series":"Observation","day":22.754,"period":6.35},{"series":"Observation","day":22.778,"period":6.16},{"series":"Observation","day":22.801,"period":6.21},{"series":"Observation","day":22.828,"period":6.11},{"series":"Observation","day":22.862,"period":6.04},{"series":"Observation","day":22.896,"period":5.93},{"series":"Observation","day":22.930,"period":5.69},{"series":"Observation","day":22.963,"period":5.57},{"series":"Observation","day":22.984,"period":5.69},{"series":"Observation","day":23.004,"period":7.10},{"series":"Observation","day":23.024,"period":8.38},{"series":"Observation","day":23.038,"period":8.15},{"series":"Observation","day":23.058,"period":8.97},{"series":"Observation","day":23.082,"period":9.20},{"series":"Observation","day":23.099,"period":9.91},{"series":"Observation","day":23.116,"period":11.31},{"series":"Observation","day":23.133,"period":11.43},{"series":"Observation","day":23.149,"period":10.84},{"series":"Observation","day":23.166,"period":9.56},{"series":"Observation","day":23.183,"period":9.09},{"series":"Observation","day":23.207,"period":9.79},{"series":"Observation","day":23.227,"period":8.38},{"series":"Observation","day":23.244,"period":9.20},{"series":"Observation","day":23.261,"period":10.84},{"series":"Observation","day":23.275,"period":11.19},{"series":"Observation","day":23.295,"period":11.78},{"series":"Observation","day":23.308,"period":11.19},{"series":"Observation","day":23.329,"period":11.90},{"series":"Observation","day":23.352,"period":11.66},{"series":"Observation","day":23.369,"period":11.43},{"series":"Observation","day":23.396,"period":11.78},{"series":"Observation","day":23.420,"period":11.31},{"series":"Observation","day":23.444,"period":11.43},{"series":"Observation","day":23.471,"period":11.66},{"series":"Observation","day":23.498,"period":11.90},{"series":"Observation","day":23.521,"period":12.13},{"series":"Observation","day":23.545,"period":12.25},{"series":"Observation","day":23.572,"period":12.13},{"series":"Observation","day":23.599,"period":12.37},{"series":"Observation","day":23.616,"period":13.07},{"series":"Observation","day":23.633,"period":12.72},{"series":"Observation","day":23.657,"period":12.13},{"series":"Observation","day":23.673,"period":12.83},{"series":"Observation","day":23.690,"period":12.72},{"series":"Observation","day":23.707,"period":12.37},{"series":"Observation","day":23.731,"period":11.78},{"series":"Observation","day":23.751,"period":12.13},{"series":"Observation","day":23.775,"period":11.90},{"series":"Observation","day":23.799,"period":12.30},{"series":"Observation","day":23.819,"period":11.78},{"series":"Observation","day":23.842,"period":12.13},{"series":"Observation","day":23.866,"period":11.55},{"series":"Observation","day":23.886,"period":11.66},{"series":"Observation","day":23.910,"period":11.08},{"series":"Observation","day":23.934,"period":11.31},{"series":"Observation","day":23.954,"period":11.43},{"series":"Observation","day":23.978,"period":11.08},{"series":"Observation","day":24.001,"period":11.55},{"series":"Observation","day":24.022,"period":11.31},{"series":"Observation","day":24.045,"period":10.89},{"series":"Observation","day":24.069,"period":10.84},{"series":"Observation","day":24.089,"period":10.84},{"series":"Observation","day":24.113,"period":11.31},{"series":"Observation","day":24.130,"period":12.01},{"series":"Observation","day":24.154,"period":12.20},{"series":"Observation","day":24.181,"period":12.13},{"series":"Observation","day":24.204,"period":11.97},{"series":"Observation","day":24.231,"period":12.20},{"series":"Observation","day":24.255,"period":12.01},{"series":"Observation","day":24.275,"period":11.90},{"series":"Observation","day":24.299,"period":11.66},{"series":"Observation","day":24.323,"period":11.78},{"series":"Observation","day":24.343,"period":11.43},{"series":"Observation","day":24.367,"period":11.31},{"series":"Observation","day":24.390,"period":11.08},{"series":"Observation","day":24.410,"period":11.43},{"series":"Observation","day":24.434,"period":10.96},{"series":"Observation","day":24.458,"period":11.19},{"series":"Observation","day":24.485,"period":10.96},{"series":"Observation","day":24.508,"period":11.08},{"series":"Observation","day":24.535,"period":10.84},{"series":"Observation","day":24.559,"period":10.89},{"series":"Observation","day":24.586,"period":10.73},{"series":"Observation","day":24.610,"period":10.66},{"series":"Observation","day":24.637,"period":10.49},{"series":"Observation","day":24.661,"period":10.61},{"series":"Observation","day":24.688,"period":10.37},{"series":"Observation","day":24.715,"period":10.19},{"series":"Observation","day":24.738,"period":10.26},{"series":"Observation","day":24.762,"period":9.91},{"series":"Observation","day":24.789,"period":10.14},{"series":"Observation","day":24.813,"period":9.79},{"series":"Observation","day":24.840,"period":9.95},{"series":"Observation","day":24.863,"period":9.56},{"series":"Observation","day":24.884,"period":9.67},{"series":"Observation","day":24.907,"period":9.32},{"series":"Observation","day":24.931,"period":9.09},{"series":"Observation","day":24.951,"period":8.62},{"series":"Observation","day":24.965,"period":8.74},{"series":"Observation","day":24.992,"period":8.74},{"series":"Observation","day":25.016,"period":8.85},{"series":"Observation","day":25.043,"period":9.09},{"series":"Observation","day":25.066,"period":8.85},{"series":"Observation","day":25.087,"period":9.20},{"series":"Observation","day":25.110,"period":8.97},{"series":"Observation","day":25.134,"period":9.32},{"series":"Observation","day":25.161,"period":8.97},{"series":"Observation","day":25.188,"period":9.32},{"series":"Observation","day":25.212,"period":9.91},{"series":"Observation","day":25.235,"period":9.32},{"series":"Observation","day":25.262,"period":9.09},{"series":"Observation","day":25.286,"period":8.97},{"series":"Observation","day":25.306,"period":8.74},{"series":"Observation","day":25.330,"period":8.85},{"series":"Observation","day":25.357,"period":8.62},{"series":"Observation","day":25.381,"period":8.74},{"series":"Observation","day":25.404,"period":8.85},{"series":"Observation","day":25.431,"period":8.50},{"series":"Observation","day":25.455,"period":8.62},{"series":"Observation","day":25.482,"period":8.45},{"series":"Observation","day":25.506,"period":8.62},{"series":"Observation","day":25.533,"period":8.50},{"series":"Observation","day":25.560,"period":8.74},{"series":"Observation","day":25.584,"period":8.55},{"series":"Observation","day":25.607,"period":8.38},{"series":"Observation","day":25.634,"period":8.62},{"series":"Observation","day":25.661,"period":8.55},{"series":"Observation","day":25.685,"period":8.74},{"series":"Observation","day":25.709,"period":8.27},{"series":"Observation","day":25.736,"period":7.92},{"series":"Observation","day":25.763,"period":8.03},{"series":"Observation","day":25.786,"period":8.08},{"series":"Observation","day":25.810,"period":7.92},{"series":"Observation","day":25.837,"period":8.15},{"series":"Observation","day":25.861,"period":8.03},{"series":"Observation","day":25.888,"period":7.92},{"series":"Observation","day":25.911,"period":8.15},{"series":"Observation","day":25.938,"period":7.99},{"series":"Observation","day":25.962,"period":8.03},{"series":"Observation","day":25.989,"period":7.85},{"series":"Observation","day":26.013,"period":7.92},{"series":"Observation","day":26.040,"period":7.80},{"series":"Observation","day":26.067,"period":7.85},{"series":"Observation","day":26.091,"period":7.92},{"series":"Observation","day":26.114,"period":7.99},{"series":"Observation","day":26.141,"period":8.08},{"series":"Observation","day":26.165,"period":8.03},{"series":"Observation","day":26.192,"period":7.92},{"series":"Observation","day":26.216,"period":7.80},{"series":"Observation","day":26.243,"period":7.85},{"series":"Observation","day":26.270,"period":7.92},{"series":"Observation","day":26.283,"period":7.61},{"series":"Observation","day":26.297,"period":6.81},{"series":"Observation","day":26.310,"period":7.33},{"series":"Observation","day":26.337,"period":7.61},{"series":"Observation","day":26.361,"period":7.68},{"series":"Observation","day":26.385,"period":7.52},{"series":"Observation","day":26.405,"period":7.45},{"series":"Observation","day":26.429,"period":7.52},{"series":"Observation","day":26.456,"period":7.52},{"series":"Observation","day":26.480,"period":7.38},{"series":"Observation","day":26.496,"period":7.61},{"series":"Observation","day":26.520,"period":7.28},{"series":"Observation","day":26.540,"period":7.52},{"series":"Observation","day":26.554,"period":7.45},{"series":"Observation","day":26.567,"period":7.68},{"series":"Observation","day":26.588,"period":7.45},{"series":"Observation","day":26.608,"period":7.52},
{"series":"Calculation","day":22.000,"period":5.18},{"series":"Calculation","day":22.068,"period":5.18},{"series":"Calculation","day":22.118,"period":4.71},{"series":"Calculation","day":22.321,"period":4.71},{"series":"Calculation","day":22.372,"period":4.29},{"series":"Calculation","day":22.416,"period":3.82},{"series":"Calculation","day":22.490,"period":4.52},{"series":"Calculation","day":22.558,"period":5.57},{"series":"Calculation","day":22.625,"period":6.16},{"series":"Calculation","day":22.710,"period":6.35},{"series":"Calculation","day":22.811,"period":6.21},{"series":"Calculation","day":22.862,"period":5.69},{"series":"Calculation","day":22.896,"period":2.76},{"series":"Calculation","day":22.923,"period":2.65},{"series":"Calculation","day":23.116,"period":2.65},{"series":"Calculation","day":23.166,"period":2.88},{"series":"Calculation","day":23.217,"period":3.11},{"series":"Calculation","day":23.275,"period":3.23},{"series":"Calculation","day":23.335,"period":3.58},{"series":"Calculation","day":23.403,"period":4.17},{"series":"Calculation","day":23.454,"period":6.86},{"series":"Calculation","day":23.504,"period":7.56},{"series":"Calculation","day":23.565,"period":8.62},{"series":"Calculation","day":23.599,"period":9.16},{"series":"Calculation","day":23.640,"period":9.25},{"series":"Calculation","day":23.680,"period":10.14},{"series":"Calculation","day":24.535,"period":10.14},{"series":"Calculation","day":24.569,"period":9.20},{"series":"Calculation","day":24.671,"period":9.20},{"series":"Calculation","day":24.715,"period":7.61},{"series":"Calculation","day":24.907,"period":7.61},{"series":"Calculation","day":24.951,"period":8.38},{"series":"Calculation","day":25.330,"period":8.38},{"series":"Calculation","day":25.371,"period":7.61},{"series":"Calculation","day":25.763,"period":7.61},{"series":"Calculation","day":25.796,"period":6.91},{"series":"Calculation","day":26.294,"period":6.91},{"series":"Calculation","day":26.327,"period":6.28},{"series":"Calculation","day":26.419,"period":6.28},{"series":"Calculation","day":26.452,"period":4.71},{"series":"Calculation","day":26.750,"period":4.71},{"series":"Calculation","day":26.777,"period":5.18},{"series":"Calculation","day":26.912,"period":5.18},{"series":"Calculation","day":26.959,"period":5.64},{"series":"Calculation","day":27.000,"period":5.69}
]
},
"vconcat":[
{"width":493,"height":214,"data":{"name":"sokcho"},"mark":{"type":"line","strokeWidth":1},
"encoding":{
"x":{"field":"day","type":"quantitative","scale":{"domain":[22,27],"nice":false,"zero":false},"axis":{"values":[22,23,24,25,26,27],"format":"d","title":"Date (Oct 2006 UST)"}},
"y":{"field":"period","type":"quantitative","scale":{"domain":[0,15],"nice":false},"axis":{"values":[0,2,4,6,8,10,12,14],"format":"d","title":"Wave period (sec)"}},
"color":{"field":"series","type":"nominal","scale":{"domain":["Observation","Calculation"],"range":["#1a1a1a","#555555"]},"legend":{"title":"Sokcho","orient":"none","legendX":306,"legendY":6}},
"strokeDash":{"field":"series","type":"nominal","scale":{"domain":["Observation","Calculation"],"range":[[1,0],[5,3]]},"legend":{"title":"Sokcho","orient":"none","legendX":306,"legendY":6}}}},
{"width":493,"height":214,"data":{"name":"gangreung"},"mark":{"type":"line","strokeWidth":1},
"encoding":{
"x":{"field":"day","type":"quantitative","scale":{"domain":[22,27],"nice":false,"zero":false},"axis":{"values":[22,23,24,25,26,27],"format":"d","title":"Date (Oct 2006 UST)"}},
"y":{"field":"period","type":"quantitative","scale":{"domain":[0,15],"nice":false},"axis":{"values":[0,2,4,6,8,10,12,14],"format":"d","title":"Wave period (sec)"}},
"color":{"field":"series","type":"nominal","scale":{"domain":["Observation","Calculation"],"range":["#1a1a1a","#555555"]},"legend":{"title":"Gangreung","orient":"none","legendX":306,"legendY":6}},
"strokeDash":{"field":"series","type":"nominal","scale":{"domain":["Observation","Calculation"],"range":[[1,0],[5,3]]},"legend":{"title":"Gangreung","orient":"none","legendX":306,"legendY":6}}}},
{"width":493,"height":214,"data":{"name":"mukho"},"mark":{"type":"line","strokeWidth":1},
"encoding":{
"x":{"field":"day","type":"quantitative","scale":{"domain":[22,27],"nice":false,"zero":false},"axis":{"values":[22,23,24,25,26,27],"format":"d","title":"Date (Oct 2006 UST)"}},
"y":{"field":"period","type":"quantitative","scale":{"domain":[0,15],"nice":false},"axis":{"values":[0,2,4,6,8,10,12,14],"format":"d","title":"Wave period (sec)"}},
"color":{"field":"series","type":"nominal","scale":{"domain":["Observation","Calculation"],"range":["#1a1a1a","#555555"]},"legend":{"title":"Mukho","orient":"none","legendX":306,"legendY":6}},
"strokeDash":{"field":"series","type":"nominal","scale":{"domain":["Observation","Calculation"],"range":[[1,0],[5,3]]},"legend":{"title":"Mukho","orient":"none","legendX":306,"legendY":6}}}},
{"width":493,"height":214,"data":{"name":"hupo"},"mark":{"type":"line","strokeWidth":1},
"encoding":{
"x":{"field":"day","type":"quantitative","scale":{"domain":[22,27],"nice":false,"zero":false},"axis":{"values":[22,23,24,25,26,27],"format":"d","title":"Date (Oct 2006 UST)"}},
"y":{"field":"period","type":"quantitative","scale":{"domain":[0,15],"nice":false},"axis":{"values":[0,2,4,6,8,10,12,14],"format":"d","title":"Wave period (sec)"}},
"color":{"field":"series","type":"nominal","scale":{"domain":["Observation","Calculation"],"range":["#1a1a1a","#555555"]},"legend":{"title":"Hupo","orient":"none","legendX":306,"legendY":6}},
"strokeDash":{"field":"series","type":"nominal","scale":{"domain":["Observation","Calculation"],"range":[[1,0],[5,3]]},"legend":{"title":"Hupo","orient":"none","legendX":306,"legendY":6}}}},
{"width":493,"height":214,"data":{"name":"jinha"},"mark":{"type":"line","strokeWidth":1},
"encoding":{
"x":{"field":"day","type":"quantitative","scale":{"domain":[22,27],"nice":false,"zero":false},"axis":{"values":[22,23,24,25,26,27],"format":"d","title":"Date (Oct 2006 UST)"}},
"y":{"field":"period","type":"quantitative","scale":{"domain":[0,15],"nice":false},"axis":{"values":[0,2,4,6,8,10,12,14],"format":"d","title":"Wave period (sec)"}},
"color":{"field":"series","type":"nominal","scale":{"domain":["Observation","Calculation"],"range":["#1a1a1a","#555555"]},"legend":{"title":"Jinha","orient":"none","legendX":306,"legendY":6}},
"strokeDash":{"field":"series","type":"nominal","scale":{"domain":["Observation","Calculation"],"range":[[1,0],[5,3]]},"legend":{"title":"Jinha","orient":"none","legendX":306,"legendY":6}}}}
],
"resolve":{"scale":{"color":"independent","strokeDash":"independent","x":"independent","y":"independent"},"legend":{"color":"independent","strokeDash":"independent"}}
}
